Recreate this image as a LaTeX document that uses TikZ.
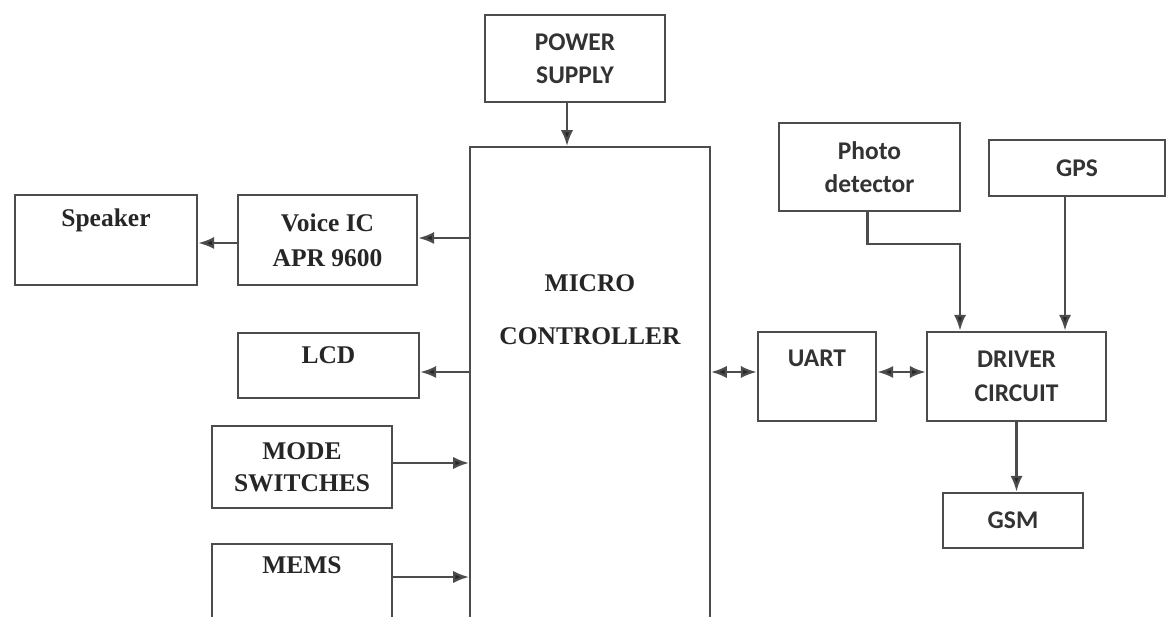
\documentclass[tikz,border=0pt]{standalone}
\usepackage{fontspec}
\usepackage{tikz}
\usetikzlibrary{arrows.meta,calc,positioning}
\newfontfamily\blkserif{Liberation Serif}
\newfontfamily\blksans{Carlito}
\definecolor{linegray}{rgb}{0.3,0.3,0.3}

\begin{document}
\begin{tikzpicture}[x=0.02cm,y=-0.02cm,
        blk/.style={draw=linegray, line width=1.6pt, fill=white, inner sep=0pt},
        ser/.style={font=\blkserif\bfseries\fontsize{14.5}{20}\selectfont, text=black!85, align=center},
        san/.style={font=\blksans\bfseries\fontsize{14.5}{19}\selectfont, text=black!80, align=center},
        arr/.style={-{Latex[length=9pt,width=7pt,fill=black!85]}, draw=linegray, line width=1.3pt},
        darr/.style={{Latex[length=9pt,width=7pt,fill=black!85]}-{Latex[length=9pt,width=7pt,fill=black!85]}, draw=linegray, line width=1.3pt}]
                \clip (0,0) rectangle (1166,617);
                % centre block
                \node[blk, line width=1.2pt, minimum width=4.8cm, minimum height=11.06cm] (mcu) at (590,423.5) {};
                \node[ser] (mcu-t) at ([yshift=-3.27cm]mcu.north) {MICRO\\[10pt]CONTROLLER};
                \node[blk, san, minimum width=3.6cm, minimum height=1.74cm] (pwr) at (575,58.5) {POWER\\SUPPLY};
                % left side
                \node[blk, minimum width=3.64cm, minimum height=1.8cm] (spk) at (106,240) {};
                \node[ser] (spk-t) at ([yshift=-0.54cm]spk.north) {Speaker};
                \node[blk, ser, minimum width=3.58cm, minimum height=1.8cm] (voice) at (327.5,240) {Voice IC\\APR 9600};
                \node[blk, minimum width=3.62cm, minimum height=1.3cm] (lcd) at (328.5,365.5) {};
                \node[ser] (lcd-t) at ([yshift=-0.48cm]lcd.north) {LCD};
                \node[blk, ser, minimum width=3.6cm, minimum height=1.64cm] (mode) at (302,467) {MODE\\[-2pt]SWITCHES};
                \node[blk, minimum width=3.6cm, minimum height=2.72cm] (mems) at (302,612) {};
                \node[ser] (mems-t) at ([yshift=-0.46cm]mems.north) {MEMS};
                % right side
                \node[blk, san, minimum width=3.62cm, minimum height=1.76cm] (photo) at (869.5,167) {Photo\\detector};
                \node[blk, san, minimum width=3.52cm, minimum height=1.12cm] (gps) at (1077,168) {GPS};
                \node[blk, minimum width=2.36cm, minimum height=1.78cm] (uart) at (817,376.5) {};
                \node[san] (uart-t) at ([yshift=-0.56cm]uart.north) {UART};
                \node[blk, san, minimum width=3.58cm, minimum height=1.78cm] (drv) at (1016.5,376.5) {DRIVER\\CIRCUIT};
                \node[blk, san, minimum width=2.8cm, minimum height=1.1cm] (gsm) at (1013,520.5) {GSM};
                \coordinate (pd-bend) at (960,244);
                % connectors
                \draw[arr] ([xshift=-0.16cm]pwr.south) -- ([xshift=-0.16cm]pwr.south |- mcu.north);
                \draw[arr] ([yshift=0.04cm]voice.east -| mcu.west) -- ([yshift=0.04cm]voice.east);
                \draw[arr] ([yshift=-0.06cm]voice.west) -- ([yshift=-0.06cm]spk.east);
                \draw[arr] ([yshift=-0.13cm]lcd.east -| mcu.west) -- ([yshift=-0.13cm]lcd.east);
                \draw[arr] ([yshift=0.08cm]mode.east) -- ([yshift=0.08cm]mode.east -| mcu.west);
                \draw[arr] ([yshift=0.7cm]mems.east) -- ([yshift=0.7cm]mems.east -| mcu.west);
                \draw[darr] ([yshift=0.09cm]uart.west -| mcu.east) -- ([yshift=0.09cm]uart.west);
                \draw[darr] ([yshift=0.09cm]uart.east) -- ([yshift=0.09cm]drv.west);
                \draw[arr] ([xshift=-0.04cm]photo.south) |- (pd-bend) -- (pd-bend |- drv.north);
                \draw[arr] ([xshift=-0.24cm]gps.south) -- ([xshift=-0.24cm]gps.south |- drv.north);
                \draw[arr] (drv.south) -- (drv.south |- gsm.north);
            \end{tikzpicture}
\end{document}
